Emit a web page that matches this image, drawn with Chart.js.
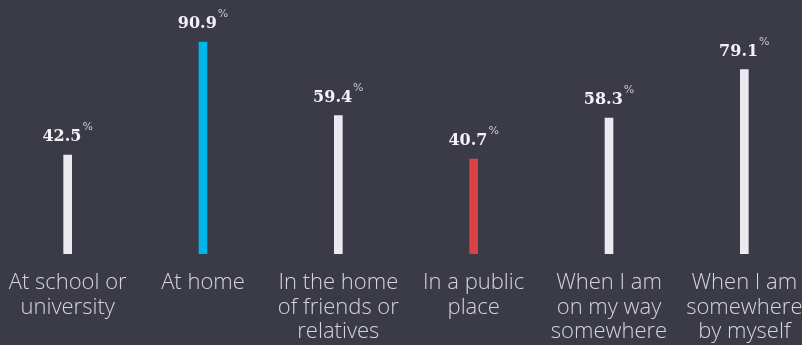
<!DOCTYPE html>
<html>
<head>
<meta charset="utf-8">
<script src="https://cdn.jsdelivr.net/npm/chart.js@4.4.1/dist/chart.umd.min.js"></script>
<style>
  html, body { margin: 0; padding: 0; background: #3a3b47; overflow: hidden; }
  #wrap { position: relative; width: 812px; height: 345px; }
</style>
</head>
<body>
<div id="wrap"><canvas id="c"></canvas></div>
<script>
// Where respondents use their devices (share of respondents, %)
const categories = [
  ['At school or', 'university'],
  ['At home'],
  ['In the home', 'of friends or', 'relatives'],
  ['In a public', 'place'],
  ['When I am', 'on my way', 'somewhere'],
  ['When I am', 'somewhere', 'by myself']
];
const values = [42.5, 90.9, 59.4, 40.7, 58.3, 79.1];
const barColors = ['#ece9f1', '#00b5e8', '#ece9f1', '#db4145', '#ece9f1', '#ece9f1'];

// Value labels above each bar: number in serif, small "%" raised after it
const valueLabels = {
  id: 'valueLabels',
  afterDatasetsDraw(chart) {
    const ctx = chart.ctx;
    const meta = chart.getDatasetMeta(0);
    const numFont = 'bold 16px "DejaVu Serif", serif';
    const pctFont = '11px "DejaVu Sans", sans-serif';
    ctx.save();
    meta.data.forEach((bar, i) => {
      const num = values[i].toFixed(1);
      ctx.font = numFont;
      const wNum = ctx.measureText(num).width;
      ctx.font = pctFont;
      const wPct = ctx.measureText('%').width;
      const total = wNum + 1 + wPct;
      const x0 = bar.x - total / 2;
      const base = bar.y - 14;
      ctx.textAlign = 'left';
      ctx.textBaseline = 'alphabetic';
      ctx.fillStyle = '#f4f2f6';
      ctx.font = numFont;
      ctx.fillText(num, x0, base);
      ctx.fillStyle = '#c9c8d0';
      ctx.font = pctFont;
      ctx.fillText('%', x0 + wNum + 1, base - 11);
    });
    ctx.restore();
  }
};

new Chart(document.getElementById('c'), {
  type: 'bar',
  data: {
    labels: categories,
    datasets: [{
      data: values,
      backgroundColor: barColors,
      barThickness: 8,
      borderWidth: 0
    }]
  },
  options: {
    responsive: true,
    maintainAspectRatio: false,
    animation: false,
    layout: { padding: { top: 21, left: 0, right: 0, bottom: 0 } },
    plugins: { legend: { display: false }, tooltip: { enabled: false } },
    scales: {
      x: {
        grid: { display: false, drawTicks: false },
        border: { display: false },
        afterFit(scale) {
          // fixed band for the category names; let the edge labels run past the plot
          scale.height = 91;
          scale.paddingLeft = 0;
          scale.paddingRight = 0;
        },
        ticks: {
          color: '#d6d5dc',
          font: { family: '"Open Sans", "Noto Sans", sans-serif', size: 22, weight: 300, lineHeight: 1.1 },
          padding: 17,
          maxRotation: 0,
          autoSkip: false
        }
      },
      y: {
        display: false,
        min: 0,
        max: 100
      }
    }
  },
  plugins: [valueLabels]
});
</script>
</body>
</html>
